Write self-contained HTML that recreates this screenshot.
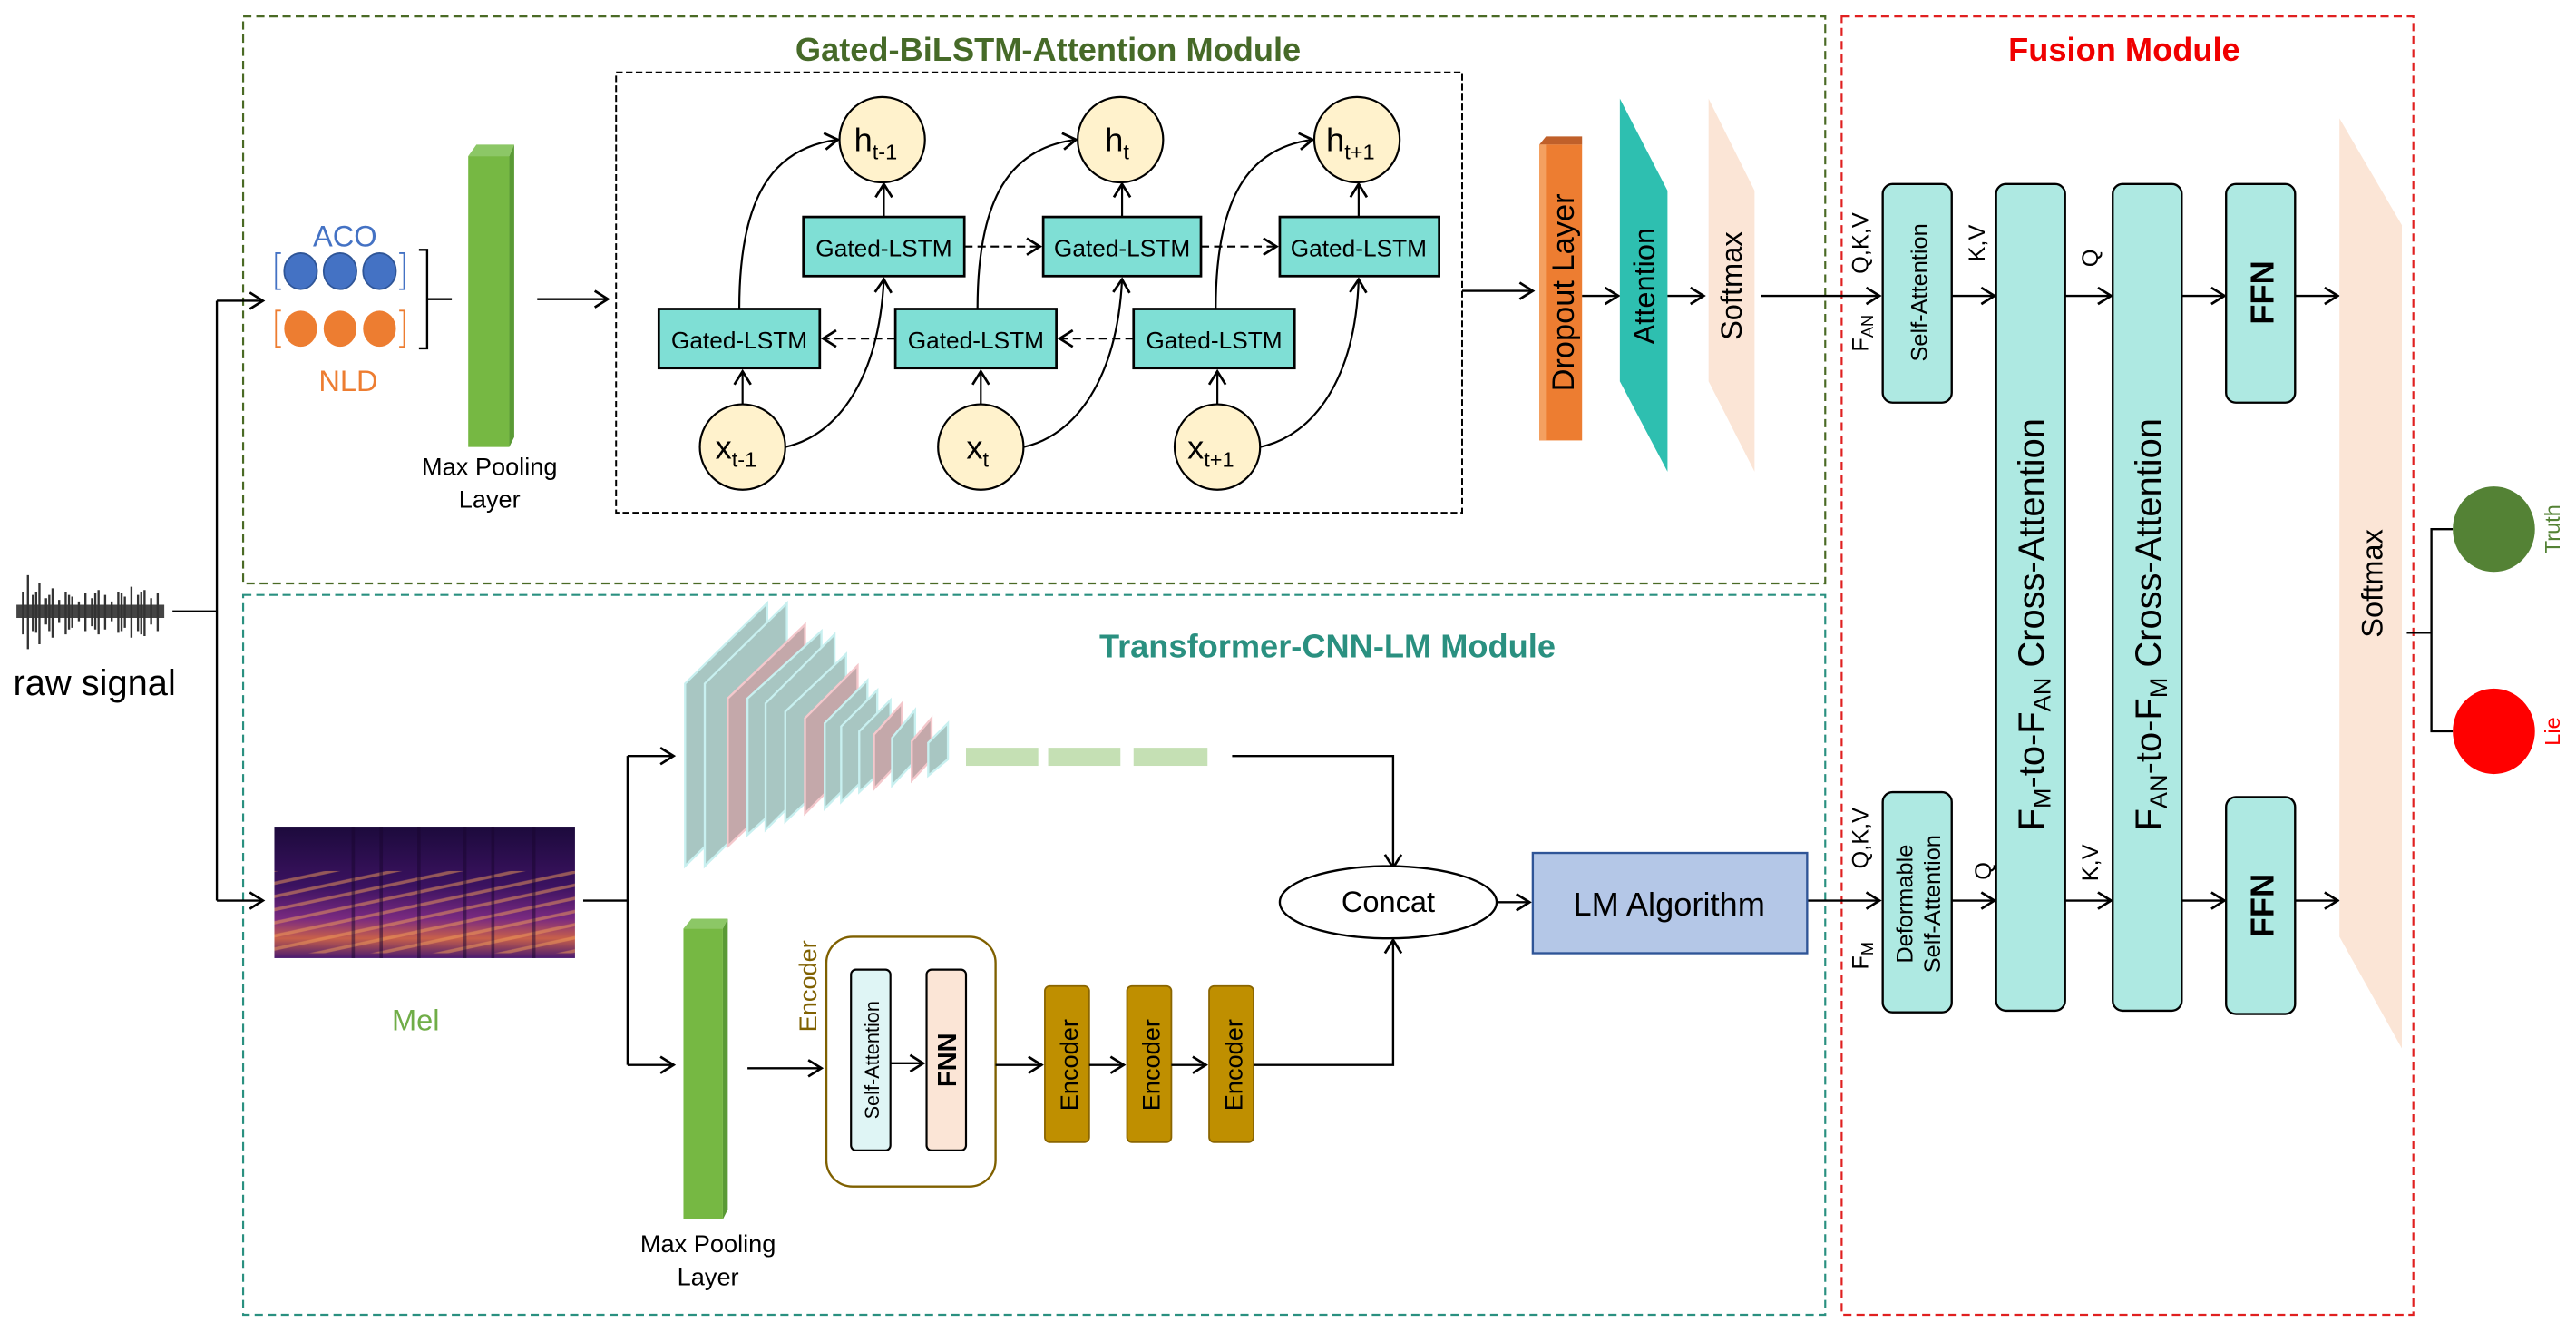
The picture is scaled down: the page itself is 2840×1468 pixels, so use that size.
<!DOCTYPE html>
<html><head><meta charset="utf-8"><style>
html,body{margin:0;padding:0;background:#fff;}
svg{display:block;}
text{font-family:"Liberation Sans",sans-serif;}
</style></head><body>
<svg width="2840" height="1468" viewBox="0 0 1568 810.5" xmlns="http://www.w3.org/2000/svg">
<defs>
<marker id="a" markerWidth="12" markerHeight="12" refX="10" refY="6" orient="auto" markerUnits="userSpaceOnUse">
<path d="M2,1 L10,6 L2,11" fill="none" stroke="#000" stroke-width="1.5"/></marker>
<linearGradient id="mel" x1="0" y1="0" x2="0" y2="1">
<stop offset="0" stop-color="#1c0a3c"/><stop offset="0.45" stop-color="#3b1260"/>
<stop offset="0.7" stop-color="#7a2a80"/><stop offset="0.85" stop-color="#c8604a"/><stop offset="1" stop-color="#4a1a70"/></linearGradient>
<pattern id="stripes" width="9" height="8" patternUnits="userSpaceOnUse" patternTransform="skewY(-12)"><rect width="9" height="2" y="4" fill="#f4a05a" opacity="0.5"/></pattern>
</defs>

<!-- module boxes -->
<rect x="148" y="10" width="963" height="345" fill="none" stroke="#4a6a25" stroke-width="1.2" stroke-dasharray="5,3"/>
<rect x="148" y="362" width="963" height="438" fill="none" stroke="#2a9080" stroke-width="1.2" stroke-dasharray="5,3"/>
<rect x="1121" y="10" width="348" height="790" fill="none" stroke="#e02020" stroke-width="1.2" stroke-dasharray="5,3"/>
<text x="638" y="37" font-size="20" font-weight="bold" fill="#466a28" text-anchor="middle">Gated-BiLSTM-Attention Module</text>
<text x="808" y="400" font-size="20" font-weight="bold" fill="#2a9080" text-anchor="middle">Transformer-CNN-LM Module</text>
<text x="1293" y="37" font-size="20" font-weight="bold" fill="#f00000" text-anchor="middle">Fusion Module</text>

<!-- raw signal -->
<path d="M10,372 L100,372" stroke="#444" stroke-width="8"/>
<path d="M14,360V386M17,350V395M20,362V384M24,355V392M28,364V380M32,358V388M36,365V379M40,360V386M44,363V382M48,366V378M52,361V384M56,364V381M60,359V386M64,362V383M68,366V378M72,360V385M76,363V382M80,357V388M84,362V384M88,359V387M92,364V380M96,361V384M22,360V385M30,362V384M42,362V383M58,361V383M74,361V384M86,360V386" stroke="#333" stroke-width="1.3"/>
<text x="8" y="423" font-size="22">raw signal</text>
<path d="M105,372H132M132,183V548" fill="none" stroke="#000" stroke-width="1.3"/>
<path d="M132,183H160" stroke="#000" stroke-width="1.3" marker-end="url(#a)"/>
<path d="M132,548H160" stroke="#000" stroke-width="1.3" marker-end="url(#a)"/>

<!-- ACO / NLD -->
<text x="210" y="150" font-size="18" fill="#4472c4" text-anchor="middle">ACO</text>
<text x="212" y="238" font-size="18" fill="#ed7d31" text-anchor="middle">NLD</text>
<g fill="#4472c4" stroke="#2f5597" stroke-width="1"><ellipse cx="183" cy="165" rx="10" ry="11"/><ellipse cx="207" cy="165" rx="10" ry="11"/><ellipse cx="231" cy="165" rx="10" ry="11"/></g>
<g fill="#ed7d31"><ellipse cx="183" cy="200" rx="10" ry="11"/><ellipse cx="207" cy="200" rx="10" ry="11"/><ellipse cx="231" cy="200" rx="10" ry="11"/></g>
<path d="M171,154h-3v22h3M243,154h3v22h-3" fill="none" stroke="#4472c4" stroke-width="1"/>
<path d="M171,189h-3v22h3M243,189h3v22h-3" fill="none" stroke="#ed7d31" stroke-width="1"/>
<path d="M255,152h5v60h-5M260,182h15" fill="none" stroke="#000" stroke-width="1.3"/>

<!-- max pooling top -->
<polygon points="285,95 290,88 313,88 310,95" fill="#8cc766"/>
<polygon points="310,95 313,88 313,266 310,272" fill="#5a9a35"/>
<rect x="285" y="95" width="25" height="177" fill="#76b843"/>
<text x="298" y="289" font-size="15" text-anchor="middle">Max Pooling</text>
<text x="298" y="309" font-size="15" text-anchor="middle">Layer</text>
<path d="M327,182H370" stroke="#000" stroke-width="1.3" marker-end="url(#a)"/>

<!-- BiLSTM box -->
<rect x="375" y="44" width="515" height="268" fill="none" stroke="#000" stroke-width="1.1" stroke-dasharray="4,2"/>
<g stroke="#000" stroke-width="1.2" fill="#fff2cc">
<ellipse cx="537" cy="85" rx="26" ry="26"/><ellipse cx="682" cy="85" rx="26" ry="26"/><ellipse cx="826" cy="85" rx="26" ry="26"/>
<ellipse cx="452" cy="272" rx="26" ry="26"/><ellipse cx="597" cy="272" rx="26" ry="26"/><ellipse cx="741" cy="272" rx="26" ry="26"/>
</g>
<g font-size="20" text-anchor="middle">
<text x="533" y="92">h<tspan font-size="13" dy="5">t-1</tspan></text>
<text x="680" y="92">h<tspan font-size="13" dy="5">t</tspan></text>
<text x="822" y="92">h<tspan font-size="13" dy="5">t+1</tspan></text>
<text x="448" y="279">x<tspan font-size="13" dy="5">t-1</tspan></text>
<text x="595" y="279">x<tspan font-size="13" dy="5">t</tspan></text>
<text x="737" y="279">x<tspan font-size="13" dy="5">t+1</tspan></text>
</g>
<g fill="#7fdfd5" stroke="#000" stroke-width="1.5">
<rect x="489" y="132" width="98" height="36"/><rect x="635" y="132" width="96" height="36"/><rect x="779" y="132" width="97" height="36"/>
<rect x="401" y="188" width="98" height="36"/><rect x="545" y="188" width="98" height="36"/><rect x="690" y="188" width="98" height="36"/>
</g>
<g font-size="14.5" text-anchor="middle">
<text x="538" y="156">Gated-LSTM</text><text x="683" y="156">Gated-LSTM</text><text x="827" y="156">Gated-LSTM</text>
<text x="450" y="212">Gated-LSTM</text><text x="594" y="212">Gated-LSTM</text><text x="739" y="212">Gated-LSTM</text>
</g>
<g stroke="#000" stroke-width="1.2" fill="none">
<path d="M587,150H633" stroke-dasharray="5,3" marker-end="url(#a)"/>
<path d="M731,150H777" stroke-dasharray="5,3" marker-end="url(#a)"/>
<path d="M545,206H501" stroke-dasharray="5,3" marker-end="url(#a)"/>
<path d="M690,206H645" stroke-dasharray="5,3" marker-end="url(#a)"/>
<path d="M538,132V112" marker-end="url(#a)"/><path d="M683,132V112" marker-end="url(#a)"/><path d="M827,132V112" marker-end="url(#a)"/>
<path d="M452,246V226" marker-end="url(#a)"/><path d="M597,246V226" marker-end="url(#a)"/><path d="M741,246V226" marker-end="url(#a)"/>
<path d="M450,188C450,120 470,90 510,85" marker-end="url(#a)"/>
<path d="M595,188C595,120 615,90 655,85" marker-end="url(#a)"/>
<path d="M740,188C740,120 760,90 799,85" marker-end="url(#a)"/>
<path d="M478,272C510,265 535,230 538,170" marker-end="url(#a)"/>
<path d="M623,272C655,265 680,230 683,170" marker-end="url(#a)"/>
<path d="M767,272C800,265 825,230 827,170" marker-end="url(#a)"/>
</g>
<path d="M890,177H933" stroke="#000" stroke-width="1.3" marker-end="url(#a)"/>

<!-- dropout / attention / softmax -->
<polygon points="937,88 941,83 963,83 963,88" fill="#c0602a"/>
<rect x="937" y="88" width="26" height="180" fill="#ed7d31"/>
<rect x="937" y="88" width="4" height="180" fill="#f4a060"/>
<text transform="translate(958,178) rotate(-90)" font-size="19" text-anchor="middle">Dropout Layer</text>
<path d="M963,180H985" stroke="#000" stroke-width="1.3" marker-end="url(#a)"/>
<polygon points="986,60 1015,116 1015,287 986,232" fill="#2ebfb0"/>
<text transform="translate(1007,174) rotate(-90)" font-size="18" text-anchor="middle">Attention</text>
<path d="M1015,180H1037" stroke="#000" stroke-width="1.3" marker-end="url(#a)"/>
<polygon points="1040,60 1068,116 1068,287 1040,232" fill="#fbe5d6"/>
<text transform="translate(1060,174) rotate(-90)" font-size="18" text-anchor="middle">Softmax</text>
<path d="M1072,180H1144" stroke="#000" stroke-width="1.3" marker-end="url(#a)"/>

<!-- fusion -->
<g font-size="14">
<text transform="translate(1137,148) rotate(-90)" text-anchor="middle">Q,K,V</text>
<text transform="translate(1137,214) rotate(-90)">F<tspan font-size="10" dy="3">AN</tspan></text>
<text transform="translate(1208,148) rotate(-90)" text-anchor="middle">K,V</text>
<text transform="translate(1277,157) rotate(-90)" text-anchor="middle">Q</text>
<text transform="translate(1137,510) rotate(-90)" text-anchor="middle">Q,K,V</text>
<text transform="translate(1137,590) rotate(-90)">F<tspan font-size="10" dy="3">M</tspan></text>
<text transform="translate(1212,530) rotate(-90)" text-anchor="middle">Q</text>
<text transform="translate(1277,525) rotate(-90)" text-anchor="middle">K,V</text>
</g>
<g fill="#aee9e2" stroke="#000" stroke-width="1.3">
<rect x="1146" y="112" width="42" height="133" rx="6"/>
<rect x="1215" y="112" width="42" height="503" rx="6"/>
<rect x="1286" y="112" width="42" height="503" rx="6"/>
<rect x="1355" y="112" width="42" height="133" rx="6"/>
<rect x="1146" y="482" width="42" height="134" rx="6"/>
<rect x="1355" y="485" width="42" height="132" rx="6"/>
</g>
<text transform="translate(1173,178) rotate(-90)" font-size="14" text-anchor="middle">Self-Attention</text>
<text transform="translate(1164,550) rotate(-90)" font-size="14" text-anchor="middle">Deformable</text>
<text transform="translate(1181,550) rotate(-90)" font-size="14" text-anchor="middle">Self-Attention</text>
<text transform="translate(1244,380) rotate(-90)" font-size="22" text-anchor="middle">F<tspan font-size="15" dy="4">M</tspan><tspan dy="-4">-to-F</tspan><tspan font-size="15" dy="4">AN</tspan><tspan dy="-4"> Cross-Attention</tspan></text>
<text transform="translate(1315,380) rotate(-90)" font-size="22" text-anchor="middle">F<tspan font-size="15" dy="4">AN</tspan><tspan dy="-4">-to-F</tspan><tspan font-size="15" dy="4">M</tspan><tspan dy="-4"> Cross-Attention</tspan></text>
<text transform="translate(1384,178) rotate(-90)" font-size="20" font-weight="bold" text-anchor="middle">FFN</text>
<text transform="translate(1384,551) rotate(-90)" font-size="20" font-weight="bold" text-anchor="middle">FFN</text>
<g stroke="#000" stroke-width="1.3">
<path d="M1188,180H1214" marker-end="url(#a)"/><path d="M1257,180H1285" marker-end="url(#a)"/>
<path d="M1328,180H1354" marker-end="url(#a)"/><path d="M1397,180H1423" marker-end="url(#a)"/>
<path d="M1100,548H1144" marker-end="url(#a)"/><path d="M1188,548H1214" marker-end="url(#a)"/>
<path d="M1257,548H1285" marker-end="url(#a)"/><path d="M1328,548H1354" marker-end="url(#a)"/>
<path d="M1397,548H1423" marker-end="url(#a)"/>
</g>
<polygon points="1424,72 1462,137 1462,638 1424,570" fill="#fbe5d6"/>
<text transform="translate(1450,355) rotate(-90)" font-size="18" text-anchor="middle">Softmax</text>
<path d="M1465,385H1480M1493,322H1480V445H1493" fill="none" stroke="#000" stroke-width="1.3"/>
<ellipse cx="1518" cy="322" rx="25" ry="26" fill="#548235"/>
<ellipse cx="1518" cy="445" rx="25" ry="26" fill="#ff0000"/>
<text transform="translate(1558,322) rotate(-90)" font-size="13" fill="#548235" text-anchor="middle">Truth</text>
<text transform="translate(1558,445) rotate(-90)" font-size="13" fill="#ff0000" text-anchor="middle">Lie</text>

<!-- CNN pyramid -->
<g stroke-width="1.3">
<polygon points="417,527 417,416 467,367 467,478" fill="#a8c6c2" stroke="#c8f0f0"/>
<polygon points="429,527 429,416 479,367 479,478" fill="#a8c6c2" stroke="#c8f0f0"/>
<polygon points="443,515 443,425 490,380 490,470" fill="#c4a8aa" stroke="#f4c8cc"/>
<polygon points="455,508 455,425 500,384 500,467" fill="#a8c6c2" stroke="#c8f0f0"/>
<polygon points="466,505 466,428 508,386 508,463" fill="#a8c6c2" stroke="#c8f0f0"/>
<polygon points="478,500 478,433 515,398 515,465" fill="#a8c6c2" stroke="#c8f0f0"/>
<polygon points="490,495 490,437 522,405 522,463" fill="#c4a8aa" stroke="#f4c8cc"/>
<polygon points="502,492 502,440 528,414 528,466" fill="#a8c6c2" stroke="#c8f0f0"/>
<polygon points="512,488 512,442 534,420 534,466" fill="#a8c6c2" stroke="#c8f0f0"/>
<polygon points="523,482 523,445 542,426 542,464" fill="#a8c6c2" stroke="#c8f0f0"/>
<polygon points="532,480 532,447 549,428 549,462" fill="#c4a8aa" stroke="#f4c8cc"/>
<polygon points="543,478 543,449 557,432 557,463" fill="#a8c6c2" stroke="#c8f0f0"/>
<polygon points="555,475 555,451 567,437 567,462" fill="#c4a8aa" stroke="#f4c8cc"/>
<polygon points="565,472 565,452 577,440 577,462" fill="#a8c6c2" stroke="#c8f0f0"/>
</g>
<g fill="#c5e0b4"><rect x="588" y="455" width="44" height="11"/><rect x="638" y="455" width="44" height="11"/><rect x="690" y="455" width="45" height="11"/></g>
<path d="M750,460H848V528" fill="none" stroke="#000" stroke-width="1.3" marker-end="url(#a)"/>

<!-- mel -->
<rect x="167" y="503" width="183" height="80" fill="url(#mel)"/>
<rect x="167" y="530" width="183" height="50" fill="url(#stripes)"/>
<g stroke="#1a0630" stroke-width="2" opacity="0.5"><path d="M215,503V583M232,503V583M255,503V583M283,503V583M300,503V583M325,503V583"/></g>
<text x="253" y="627" font-size="18" fill="#70ad47" text-anchor="middle">Mel</text>
<path d="M355,548H382M382,460V648" fill="none" stroke="#000" stroke-width="1.3"/>
<path d="M382,460H410" stroke="#000" stroke-width="1.3" marker-end="url(#a)"/>
<path d="M382,648H410" stroke="#000" stroke-width="1.3" marker-end="url(#a)"/>

<!-- lower max pooling -->
<polygon points="416,565 421,559 443,559 440,565" fill="#8cc766"/>
<polygon points="440,565 443,559 443,736 440,742" fill="#5a9a35"/>
<rect x="416" y="565" width="24" height="177" fill="#76b843"/>
<text x="431" y="762" font-size="15" text-anchor="middle">Max Pooling</text>
<text x="431" y="782" font-size="15" text-anchor="middle">Layer</text>
<path d="M455,650H500" stroke="#000" stroke-width="1.3" marker-end="url(#a)"/>

<!-- encoder -->
<rect x="503" y="570" width="103" height="152" rx="16" fill="none" stroke="#7f6000" stroke-width="1.3"/>
<text transform="translate(497,600) rotate(-90)" font-size="15" fill="#7f6000" text-anchor="middle">Encoder</text>
<rect x="518" y="590" width="24" height="110" rx="3" fill="#dff5f5" stroke="#000" stroke-width="1.2"/>
<rect x="564" y="590" width="24" height="110" rx="3" fill="#fbe5d6" stroke="#000" stroke-width="1.2"/>
<text transform="translate(535,645) rotate(-90)" font-size="12" text-anchor="middle">Self-Attention</text>
<text transform="translate(582,645) rotate(-90)" font-size="16" font-weight="bold" text-anchor="middle">FNN</text>
<path d="M542,647H562" stroke="#000" stroke-width="1.3" marker-end="url(#a)"/>
<g fill="#bf8f00" stroke="#8a6500" stroke-width="1"><rect x="636" y="600" width="27" height="95" rx="3"/><rect x="686" y="600" width="27" height="95" rx="3"/><rect x="736" y="600" width="27" height="95" rx="3"/></g>
<g font-size="15" text-anchor="middle"><text transform="translate(656,648) rotate(-90)">Encoder</text><text transform="translate(706,648) rotate(-90)">Encoder</text><text transform="translate(756,648) rotate(-90)">Encoder</text></g>
<g stroke="#000" stroke-width="1.3"><path d="M606,648H634" marker-end="url(#a)"/><path d="M663,648H684" marker-end="url(#a)"/><path d="M713,648H734" marker-end="url(#a)"/></g>
<path d="M763,648H848V572" fill="none" stroke="#000" stroke-width="1.3" marker-end="url(#a)"/>

<!-- concat / LM -->
<ellipse cx="845" cy="549" rx="66" ry="22" fill="#fff" stroke="#000" stroke-width="1.3"/>
<text x="845" y="555" font-size="18" text-anchor="middle">Concat</text>
<path d="M911,549H931" stroke="#000" stroke-width="1.3" marker-end="url(#a)"/>
<rect x="933" y="519" width="167" height="61" fill="#b4c7e7" stroke="#2f5597" stroke-width="1.3"/>
<text x="1016" y="557" font-size="20" text-anchor="middle">LM Algorithm</text>
</svg>
</body></html>
